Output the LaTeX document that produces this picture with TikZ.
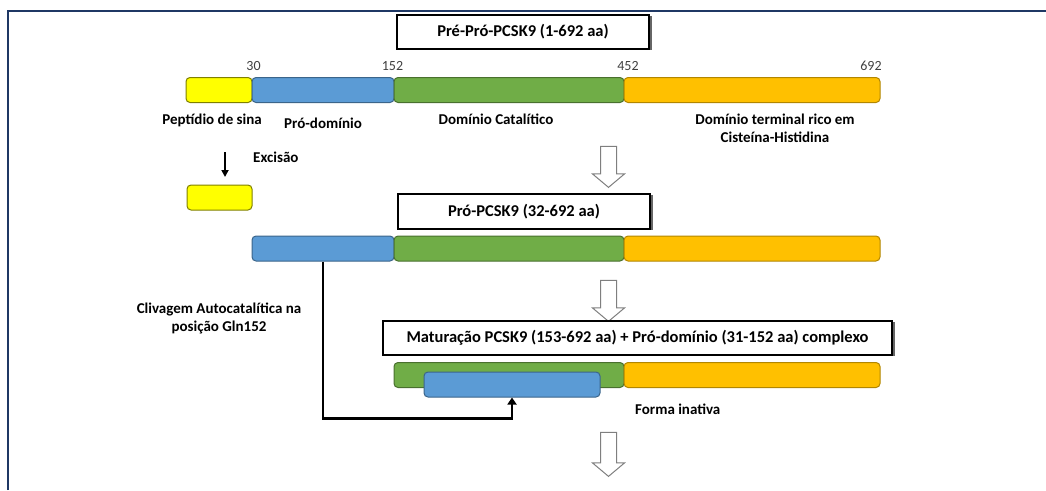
\documentclass[tikz,border=0pt]{standalone}
\usepackage{fontspec}
\setmainfont{Carlito}
\usetikzlibrary{arrows.meta,shapes.arrows,shadows}
\definecolor{frameblue}{HTML}{1F3864}
\definecolor{sigyellow}{HTML}{FFFF00}
\definecolor{problue}{HTML}{5B9BD5}
\definecolor{catgreen}{HTML}{70AD47}
\definecolor{termorange}{HTML}{FFC000}
\definecolor{numgray}{HTML}{404040}
\definecolor{arrowgray}{HTML}{7F7F7F}
\begin{document}
\begin{tikzpicture}[x=1pt,y=-1pt]
	\tikzset{seg/.style = {draw, rounded corners=4pt, line width=1pt, minimum height=25pt, inner sep=0pt}}
	\tikzset{stagebox/.style = {draw, fill=white, line width=1.3pt, minimum height=34pt, inner sep=0pt, font=\fontsize{16.5}{20}\selectfont\bfseries, drop shadow={shadow xshift=3pt, shadow yshift=-1pt, fill=black!60, opacity=1}}}
	\tikzset{lbl/.style = {font=\fontsize{15}{18}\selectfont\bfseries, align=center, inner sep=0pt}}
	\tikzset{num/.style = {font=\fontsize{14}{17}\selectfont, text=numgray, inner sep=0pt}}
	\tikzset{hollow/.style = {single arrow, draw=arrowgray, fill=white, line width=1pt, inner xsep=0pt, inner ysep=7.5pt, single arrow head extend=8pt, single arrow tip angle=100, rotate=-90}}
	\tikzset{edge/.style = {line width=2.8pt, -{Triangle[width=9pt,length=7pt]}}}

	\useasboundingbox (0,0) rectangle (1046,490);
	\draw[frameblue, line width=2.5pt] (8,490) -- (8,11) -- (1046,11);

	% stage 1
	\node[stagebox, minimum width=252pt] (box1) at (523,32) {Pré-Pró-PCSK9 (1-692 aa)};
	\node[seg, fill=sigyellow, draw=sigyellow!50!black, minimum width=66pt] (sp1) at (219,90) {};
	\node[seg, fill=problue, draw=problue!65!black, minimum width=142pt] (pro1) at (323,90) {};
	\node[seg, fill=catgreen, draw=catgreen!65!black, minimum width=230pt] (cat1) at (509,90) {};
	\node[seg, fill=termorange, draw=termorange!70!black, minimum width=256pt] (ct1) at (752,90) {};

	\node[num] (n30) at (253.5,66) {30};
	\node[num] (n152) at (392.5,66) {152};
	\node[num] (n452) at (628,66) {452};
	\node[num] (n692) at (871,66) {692};

	\node[lbl, anchor=east] (lsp) at (262,120) {Peptídio de sina};
	\node[lbl] (lpro) at (323,123) {Pró-domínio};
	\node[lbl] (lcat) at (496,119) {Domínio Catalítico};
	\node[lbl] (lct) at (775,128) {Domínio terminal rico em\\Cisteína-Histidina};

	\coordinate (ex1) at (225,152);
	\coordinate (ex2) at (225,177);
	\draw[line width=2pt, -{Triangle[width=7pt,length=7pt]}] (ex1) -- (ex2);
	\node[lbl, anchor=west] (lex) at (253,157) {Excisão};
	\node[seg, fill=sigyellow, draw=sigyellow!50!black, minimum width=65pt] (sp2) at (219.5,197.5) {};

	\node[hollow, minimum height=41pt] (arr1) at (608.5,163.5) {};

	% stage 2
	\node[stagebox, minimum width=252pt, minimum height=35pt] (box2) at (524,211.5) {Pró-PCSK9 (32-692 aa)};
	\node[seg, fill=problue, draw=problue!65!black, minimum width=142pt] (pro2) at (323,248.5) {};
	\node[seg, fill=catgreen, draw=catgreen!65!black, minimum width=230pt] (cat2) at (509,248.5) {};
	\node[seg, fill=termorange, draw=termorange!70!black, minimum width=256pt] (ct2) at (752,248.5) {};

	\node[hollow, minimum height=41pt] (arr2) at (608.5,297.5) {};
	\node[lbl] (lcliv) at (219,318) {Clivagem Autocatalítica na\\posição Gln152};

	% stage 3
	\node[stagebox, minimum width=509pt] (box3) at (637.5,338) {Maturação PCSK9 (153-692 aa) + Pró-domínio (31-152 aa) complexo};
	\node[seg, fill=catgreen, draw=catgreen!65!black, minimum width=230pt] (cat3) at (509,375) {};
	\node[seg, fill=termorange, draw=termorange!70!black, minimum width=256pt] (ct3) at (752,375) {};
	\node[seg, fill=problue, draw=problue!65!black, minimum width=176pt] (pro3) at (512,384.5) {};
	\node[lbl, anchor=west] (lina) at (635,409) {Forma inativa};

	\draw[edge] (pro2.south) -- ++(0,157) -| (pro3.south);

	\node[hollow, minimum height=44pt] (arr3) at (608.5,451) {};

\end{tikzpicture}
\end{document}
